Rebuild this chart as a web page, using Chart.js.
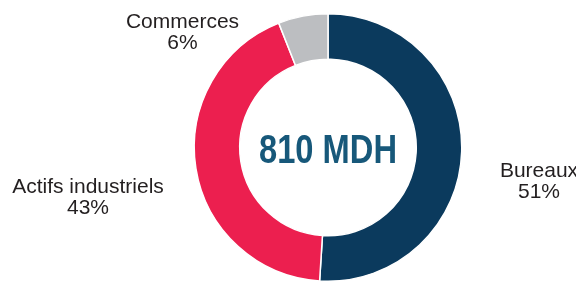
<!DOCTYPE html>
<html>
<head>
<meta charset="utf-8">
<script src="https://cdn.jsdelivr.net/npm/chart.js@4"></script>
<style>
  html, body { margin: 0; padding: 0; background: #fff; }
  #wrap { width: 576px; height: 282px; position: relative; }
</style>
</head>
<body>
<div id="wrap"><canvas id="donut"></canvas></div>
<script>
const labels = ['Bureaux', 'Actifs industriels', 'Commerces'];
const values = [51, 43, 6];
const colors = ['#0b3a5d', '#ec1f4f', '#bcbec1'];
const centerText = '810 MDH';

// label anchor offsets from the doughnut centre (px)
const labelPos = [
  { dx: 211, dy: 29.5 },
  { dx: -240, dy: 45.5 },
  { dx: -145.5, dy: -119.5 }
];

const labelsPlugin = {
  id: 'labelsPlugin',
  afterDraw(chart) {
    const c = chart.ctx;
    const arc = chart.getDatasetMeta(0).data[0];
    const cx = arc.x, cy = arc.y;
    c.save();
    c.textAlign = 'center';
    c.textBaseline = 'alphabetic';
    c.fillStyle = '#17587a';
    c.font = 'bold 40px "Liberation Sans", Arial, sans-serif';
    // the original uses a condensed face, squeeze it horizontally
    const w = c.measureText(centerText).width;
    c.save();
    c.translate(cx, cy + 15.5);
    c.scale(138 / w, 1);
    c.fillText(centerText, 0, 0);
    c.restore();
    c.fillStyle = '#231f20';
    c.font = '21px "Liberation Sans", Arial, sans-serif';
    labels.forEach(function(l, i) {
      const p = labelPos[i];
      c.fillText(l, cx + p.dx, cy + p.dy);
      c.fillText(values[i] + '%', cx + p.dx, cy + p.dy + 21);
    });
    c.restore();
  }
};

new Chart(document.getElementById('donut'), {
  type: 'doughnut',
  data: {
    labels: labels,
    datasets: [{
      data: values,
      backgroundColor: colors,
      borderColor: '#ffffff',
      borderWidth: 1.5
    }]
  },
  options: {
    responsive: true,
    maintainAspectRatio: false,
    animation: false,
    cutout: '66%',
    layout: { padding: { left: 193, right: 113, top: 13, bottom: 0 } },
    plugins: {
      legend: { display: false },
      tooltip: { enabled: false }
    }
  },
  plugins: [labelsPlugin]
});
</script>
</body>
</html>
